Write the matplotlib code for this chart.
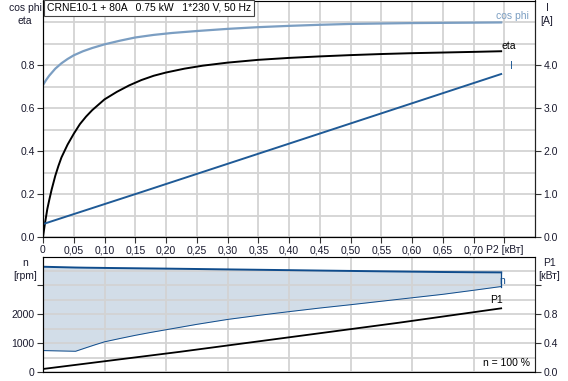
import matplotlib
matplotlib.use("Agg")
from matplotlib import pyplot as plt

plt.rcParams['font.family'] = ['Liberation Sans', 'DejaVu Sans']
plt.rcParams['font.size'] = 7.5

# Upper chart: cos phi / eta (left axis) and current (right axis) vs P2 [kW]
p2_cos = [0.0, 0.005, 0.01, 0.02, 0.03, 0.04, 0.05, 0.065, 0.08, 0.10, 0.125,
          0.15, 0.18, 0.21, 0.25, 0.30, 0.35, 0.40, 0.45, 0.50, 0.55, 0.60,
          0.65, 0.70, 0.745]
cos_phi = [0.707, 0.73, 0.75, 0.783, 0.808, 0.828, 0.845, 0.864, 0.879, 0.896,
           0.913, 0.928, 0.940, 0.949, 0.958, 0.968, 0.976, 0.982, 0.987,
           0.991, 0.993, 0.995, 0.996, 0.997, 0.998]

p2_eta = [0.0, 0.003, 0.007, 0.01, 0.014, 0.02, 0.025, 0.03, 0.04, 0.05, 0.06,
          0.07, 0.08, 0.09, 0.10, 0.12, 0.14, 0.16, 0.18, 0.20, 0.23, 0.26,
          0.30, 0.35, 0.40, 0.45, 0.50, 0.55, 0.60, 0.65, 0.70, 0.745]
eta = [0.0, 0.06, 0.13, 0.17, 0.22, 0.285, 0.33, 0.37, 0.43, 0.48, 0.525,
       0.56, 0.59, 0.615, 0.64, 0.675, 0.705, 0.73, 0.75, 0.765, 0.783, 0.797,
       0.811, 0.824, 0.833, 0.84, 0.846, 0.851, 0.855, 0.858, 0.861, 0.864]

p2_cur = [0.0, 0.157, 0.745]
current = [0.3, 1.03, 3.79]

# Lower chart: speed range (left axis) and P1 (right axis)
p2_n = [0.0, 0.053, 0.07, 0.085, 0.10, 0.125, 0.15, 0.175, 0.20, 0.25, 0.30,
        0.35, 0.40, 0.45, 0.50, 0.55, 0.60, 0.65, 0.70, 0.745]
n_max = [3645, 3618, 3612, 3608, 3604, 3598, 3592, 3586, 3580, 3567, 3553,
         3540, 3527, 3513, 3500, 3487, 3475, 3463, 3455, 3450]
n_min = [742, 718, 840, 945, 1045, 1160, 1270, 1370, 1463, 1650, 1820, 1960,
         2090, 2215, 2330, 2450, 2570, 2690, 2830, 2960]

p2_p1 = [0.0, 0.222, 0.579, 0.745]
p1 = [0.042, 0.279, 0.683, 0.882]

x_ticks = [0.0, 0.05, 0.10, 0.15, 0.20, 0.25, 0.30, 0.35, 0.40, 0.45, 0.50,
           0.55, 0.60, 0.65, 0.70, 0.75]
x_labels = ['0', '0,05', '0,10', '0,15', '0,20', '0,25', '0,30', '0,35', '0,40',
            '0,45', '0,50', '0,55', '0,60', '0,65', '0,70', 'P2 [кВт]']

c_cos = '#7b9ec2'
c_cur = '#1f5a96'
c_n = '#0f4c8c'
c_fill = '#d2dde8'
c_grid = '#d3d3d3'
c_txt = '#1a1a2e'

fig = plt.figure(figsize=(5.68, 3.81), dpi=100)
W, H = 568.0, 381.0
ax1 = fig.add_axes([43 / W, 1 - 237 / H, 492 / W, 236.5 / H])
ax2 = fig.add_axes([43 / W, 1 - 372 / H, 492 / W, 115.5 / H])

# ---- upper chart ----
ax1.set_xlim(0, 0.8)
ax1.set_ylim(0, 1.1)
ax1.set_xticks(x_ticks)
ax1.set_xticklabels(x_labels)
ax1.set_yticks([0.0, 0.2, 0.4, 0.6, 0.8])
ax1.set_yticklabels(['0.0', '0.2', '0.4', '0.6', '0.8'])
ax1.set_yticks([0.1, 0.3, 0.5, 0.7, 0.9, 1.0], minor=True)
ax1.grid(True, which='both', color=c_grid, lw=1.3)
ax1.set_axisbelow(True)
ax1.tick_params(which='minor', length=0)
ax1.tick_params(which='major', length=4, width=0.8, colors='#333333',
                labelcolor=c_txt, pad=2)
for s in ['left', 'bottom', 'right']:
    ax1.spines[s].set_color('#222222')
ax1.spines['top'].set_color('#aaaaaa')

ax1.plot(p2_cos, cos_phi, color=c_cos, lw=1.6)
ax1.plot(p2_eta, eta, color='black', lw=1.4)

ax1r = ax1.twinx()
ax1r.set_ylim(0, 5.5)
ax1r.set_yticks([0.0, 1.0, 2.0, 3.0, 4.0])
ax1r.set_yticklabels(['0.0', '1.0', '2.0', '3.0', '4.0'])
ax1r.tick_params(length=4, width=0.8, colors='#333333', labelcolor=c_txt, pad=2)
ax1r.spines['right'].set_color('#222222')
ax1r.plot(p2_cur, current, color=c_cur, lw=1.4)

ax1.text(p2_cos[-1] + 0.018, cos_phi[-1] + 0.008, 'cos phi', color=c_cos,
         ha='center', va='bottom')
ax1.text(p2_eta[-1] + 0.012, eta[-1] + 0.003, 'eta', color='black',
         ha='center', va='bottom')
ax1r.text(p2_cur[-1] + 0.016, current[-1] + 0.06, 'I', color=c_cur,
          ha='center', va='bottom')

fig.text(47 / W, 1 - 8 / H, 'CRNE10-1 + 80A   0.75 kW   1*230 V, 50 Hz',
         ha='left', va='center', color='black',
         bbox=dict(boxstyle='square,pad=0.25', fc='white', ec='#444444', lw=0.8))
fig.text(25 / W, 1 - 8 / H, 'cos phi', ha='center', va='center', color=c_txt)
fig.text(25 / W, 1 - 21 / H, 'eta', ha='center', va='center', color=c_txt)
fig.text(547 / W, 1 - 8 / H, 'I', ha='center', va='center', color=c_txt)
fig.text(547 / W, 1 - 21 / H, '[A]', ha='center', va='center', color=c_txt)

# ---- lower chart ----
ax2.set_xlim(0, 0.8)
ax2.set_ylim(0, 4000)
ax2.set_xticks([0.1 * i for i in range(1, 8)])
ax2.tick_params(axis='x', length=0, labelbottom=False)
ax2.set_yticks([0, 1000, 2000, 3000])
ax2.set_yticklabels(['0', '1000', '2000', ''])
ax2.set_yticks([500, 1500, 2500, 3500], minor=True)
ax2.tick_params(axis='y', which='minor', length=0)
ax2.tick_params(axis='y', which='major', length=4, width=0.8, colors='#333333',
                labelcolor=c_txt, pad=2)
ax2.grid(True, which='both', color=c_grid, lw=1.3, zorder=1)
for s in ['top', 'bottom', 'right']:
    ax2.spines[s].set_color('#999999')
ax2.spines['left'].set_color('#222222')

ax2.fill_between(p2_n, n_min, n_max, color=c_fill, lw=0, zorder=0.5)
ax2.plot(p2_n, n_max, color=c_n, lw=1.4, zorder=3)
ax2.plot(p2_n, n_min, color=c_n, lw=0.7, zorder=3)
ax2.plot([p2_n[-1], p2_n[-1]], [n_min[-1], n_max[-1]], color=c_n, lw=0.9, zorder=3)
ax2.text(p2_n[-1] + 0.002, (n_min[-1] + n_max[-1]) / 2 - 60, 'n', color=c_n,
         ha='center', va='center')

ax2r = ax2.twinx()
ax2r.set_ylim(0, 1.6)
ax2r.set_yticks([0.0, 0.4, 0.8, 1.2])
ax2r.set_yticklabels(['0.0', '0.4', '0.8', ''])
ax2r.tick_params(length=4, width=0.8, colors='#333333', labelcolor=c_txt, pad=2)
ax2r.spines['right'].set_color('#222222')
ax2r.plot(p2_p1, p1, color='black', lw=1.3)
ax2r.text(p2_p1[-1] - 0.008, p1[-1] + 0.05, 'P1', color='black',
          ha='center', va='bottom')
ax2r.text(0.792, 0.06, 'n = 100 %', color='black', ha='right', va='bottom')

fig.text(25 / W, 1 - 263 / H, 'n', ha='center', va='center', color=c_txt)
fig.text(25 / W, 1 - 276 / H, '[rpm]', ha='center', va='center', color=c_txt)
fig.text(549 / W, 1 - 263 / H, 'P1', ha='center', va='center', color=c_txt)
fig.text(549 / W, 1 - 276 / H, '[кВт]', ha='center', va='center', color=c_txt)

fig.savefig('out.png', dpi=100)
